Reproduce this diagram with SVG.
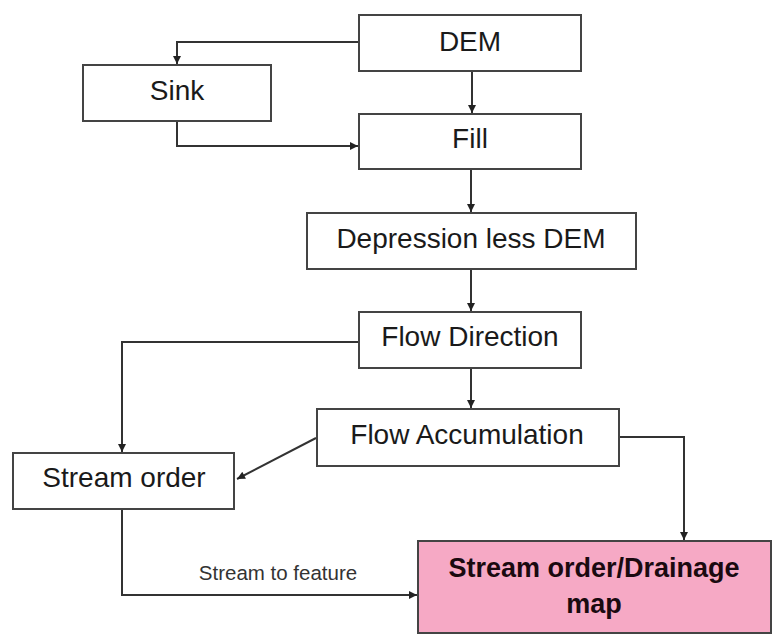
<svg xmlns="http://www.w3.org/2000/svg" width="773" height="639" viewBox="0 0 773 639">
<style>
.box{fill:#ffffff;stroke:#444444;stroke-width:2}
.out{fill:#f6a9c5;stroke:#444444;stroke-width:2}
.lbl{font-family:"Liberation Sans",Arial,sans-serif;font-size:28px;fill:#1a1a1a;text-anchor:middle}
.big{font-family:"Liberation Sans",Arial,sans-serif;font-size:27px;font-weight:bold;fill:#1a0a10;text-anchor:middle}
.small{font-family:"Liberation Sans",Arial,sans-serif;font-size:20.5px;fill:#333333;text-anchor:middle}
.edge{fill:none;stroke:#333333;stroke-width:2}
</style>
<defs>
<marker id="arr" viewBox="0 0 10 10" refX="10" refY="5" markerWidth="9" markerHeight="8" markerUnits="userSpaceOnUse" orient="auto">
<path d="M0,0 L10,5 L0,10 z" fill="#222222"/>
</marker>
</defs>
<rect width="773" height="639" fill="#ffffff"/>
<g id="connectors">
<path class="edge" d="M359,42 H177 V64" marker-end="url(#arr)"/>
<path class="edge" d="M472,71 V113" marker-end="url(#arr)"/>
<path class="edge" d="M177,121 V146 H358" marker-end="url(#arr)"/>
<path class="edge" d="M471,169 V212" marker-end="url(#arr)"/>
<path class="edge" d="M471,269 V311" marker-end="url(#arr)"/>
<path class="edge" d="M359,342 H122 V452" marker-end="url(#arr)"/>
<path class="edge" d="M471,368 V408" marker-end="url(#arr)"/>
<path class="edge" d="M316,438 L237,479" marker-end="url(#arr)"/>
<path class="edge" d="M619,437 H684 V540" marker-end="url(#arr)"/>
<path class="edge" d="M122,509 V595 H417" marker-end="url(#arr)"/>
<text class="small" x="278" y="580">Stream to feature</text>
</g>
<g id="dem"><rect class="box" x="359" y="15" width="222" height="56"/><text class="lbl" x="470" y="51">DEM</text></g>
<g id="sink"><rect class="box" x="83" y="65" width="188" height="56"/><text class="lbl" x="177" y="100">Sink</text></g>
<g id="fill"><rect class="box" x="359" y="114" width="222" height="55"/><text class="lbl" x="470" y="148">Fill</text></g>
<g id="depression"><rect class="box" x="307" y="213" width="329" height="56"/><text class="lbl" x="471" y="248">Depression less DEM</text></g>
<g id="flowdir"><rect class="box" x="359" y="312" width="222" height="56"/><text class="lbl" x="470" y="346">Flow Direction</text></g>
<g id="flowacc"><rect class="box" x="317" y="409" width="302" height="57"/><text class="lbl" x="467" y="444">Flow Accumulation</text></g>
<g id="streamorder"><rect class="box" x="13" y="453" width="221" height="56"/><text class="lbl" x="124" y="487">Stream order</text></g>
<g id="output"><rect class="out" x="418" y="541" width="353" height="92"/><text class="big" x="594" y="577">Stream order/Drainage</text><text class="big" x="594" y="613">map</text></g>
</svg>
